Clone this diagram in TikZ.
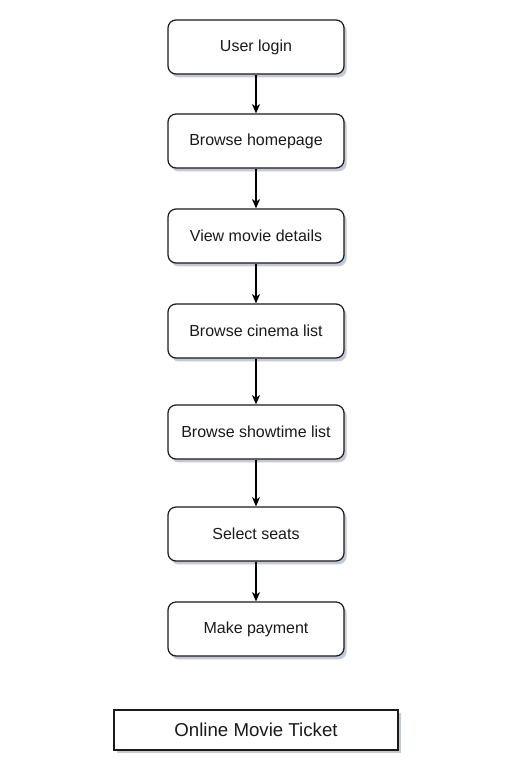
\documentclass[tikz,border=0pt]{standalone}
\usepackage{fontspec}
\setmainfont{Liberation Sans}
\usetikzlibrary{arrows.meta,shadows}
\usepackage{xcolor}
\definecolor{ink}{HTML}{1A1A1A}
\definecolor{shade}{HTML}{8C93B0}
\tikzset{
  >={Stealth[length=7pt,width=6pt,inset=2pt]},
  every node/.style={font=\fontsize{12}{14}\selectfont,text=ink},
  stepbox/.style={draw=ink,line width=0.9pt,rounded corners=6pt,fill=white,
    minimum width=132pt,minimum height=40.5pt,align=center,
    drop shadow={fill=shade,opacity=0.5,shadow xshift=2pt,shadow yshift=-2.5pt}},
  titlebox/.style={draw=ink,line width=0.9pt,fill=white,minimum width=213pt,
    minimum height=30pt,font=\fontsize{14}{16}\selectfont,
    drop shadow={fill=shade,opacity=0.5,shadow xshift=2pt,shadow yshift=-2.5pt}},
  arrow/.style={->,line width=0.9pt,draw=black},
}

\begin{document}
\begin{tikzpicture}[x=0.75pt,y=-0.75pt]
  \useasboundingbox (0,0) rectangle (530,765);
  % Steps
  \node[stepbox] (login) at (256,47) {User login};
  \node[stepbox] (home) at (256,141) {Browse homepage};
  \node[stepbox] (movie) at (256,236) {View movie details};
  \node[stepbox] (cinema) at (256,331) {Browse cinema list};
  \node[stepbox] (showtime) at (256,432) {Browse showtime list};
  \node[stepbox] (seats) at (256,534) {Select seats};
  \node[stepbox] (pay) at (256,629) {Make payment};
  \draw[arrow] (login) -- (home);
  \draw[arrow] (home) -- (movie);
  \draw[arrow] (movie) -- (cinema);
  \draw[arrow] (cinema) -- (showtime);
  \draw[arrow] (showtime) -- (seats);
  \draw[arrow] (seats) -- (pay);

  % Title
  \node[titlebox] (title) at (256,730) {Online Movie Ticket};
\end{tikzpicture}
\end{document}
